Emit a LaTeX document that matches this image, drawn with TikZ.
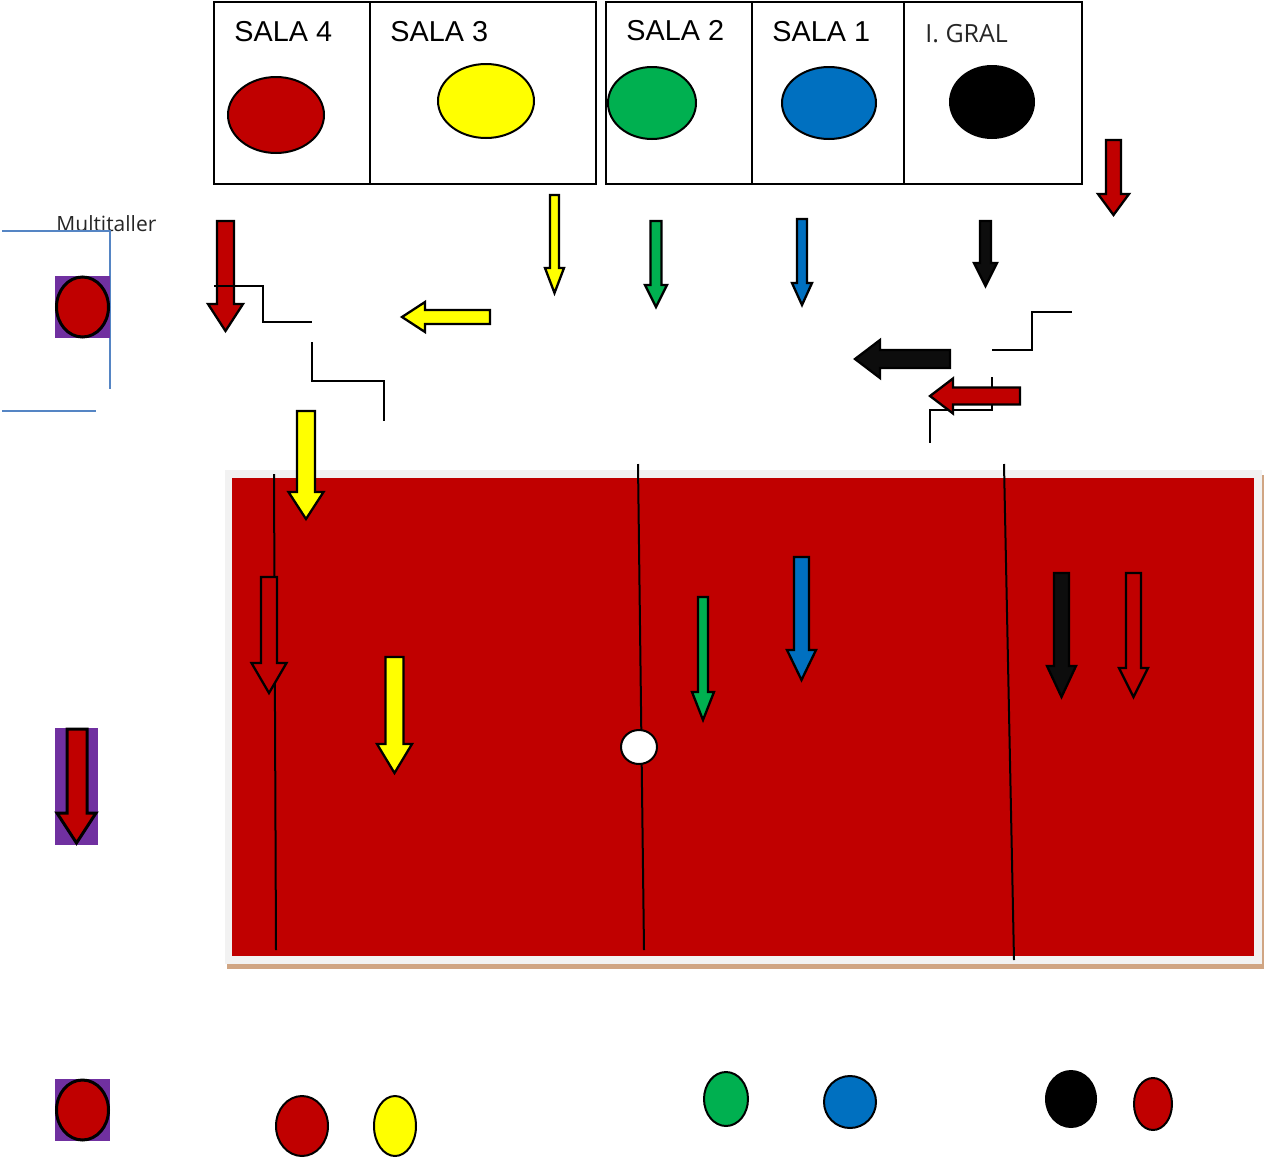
\documentclass[tikz,border=0pt]{standalone}
\usepackage{fontspec}
\setmainfont{Liberation Sans}
\newfontfamily\thinfont{Open Sans}
\definecolor{myred}{HTML}{C00000}
\definecolor{myyellow}{HTML}{FFFF00}
\definecolor{mygreen}{HTML}{00B050}
\definecolor{myblue}{HTML}{0070C0}
\definecolor{myblack}{HTML}{0D0D0D}
\definecolor{mypurple}{HTML}{7030A0}
\definecolor{myline}{HTML}{5585C4}
\definecolor{mytan}{HTML}{D0A583}
\definecolor{mygray}{HTML}{F2F2F2}
\tikzset{
  shapeline/.style={draw=black,line width=1.15pt,line join=miter},
  stairline/.style={draw=black,line width=1pt},
  sala/.style={anchor=base west,font=\fontsize{14.4}{16}\selectfont,inner sep=0pt},
  thinlabel/.style={anchor=base west,font=\thinfont\fontsize{10.5}{12}\selectfont,text=black!85,inner sep=0pt},
}

\begin{document}
\begin{tikzpicture}[x=0.5pt,y=-0.5pt]
  \useasboundingbox (0,0) rectangle (1264,1157);

  % Draw the court
  \fill[mytan] (227,963) rectangle (1264,969);
  \fill[mytan] (1262,475) rectangle (1264,969);
  \fill[mygray] (225,470) rectangle (1262,964);
  \fill[myred] (232,478) rectangle (1254,956);

  % Draw the room boxes
  \draw[shapeline] (214,2) rectangle (596,184);
  \draw[shapeline] (370,2) -- (370,184);
  \draw[shapeline] (606,2) rectangle (1082,184);
  \draw[shapeline] (752,2) -- (752,184);
  \draw[shapeline] (904,2) -- (904,184);

  % Room labels
  \node[sala] (sala4) at (234,41) {SALA 4};
  \node[sala] (sala3) at (390,41) {SALA 3};
  \node[sala] (sala2) at (626,40) {SALA 2};
  \node[sala] (sala1) at (772,41) {SALA 1};
  \node[thinlabel,font=\thinfont\fontsize{12.5}{14}\selectfont] (gral) at (925,42) {I. GRAL};
  \node[thinlabel] (multi) at (56,231) {Multitaller};

  % Blue lines at the left
  \draw[myline,line width=1.1pt] (2,231) -- (110,231) -- (110,389);
  \draw[myline,line width=1.1pt] (2,411) -- (96,411);

  % Purple backgrounds
  \fill[mypurple] (55,276) rectangle (110,338);
  \fill[mypurple] (55,728) rectangle (98,845);
  \fill[mypurple] (55,1079) rectangle (110,1141);

  % Draw the discs
  \foreach \xc/\yc/\rx/\ry/\col in {
    276/115/48/38/myred, 486/101/48/37/myyellow, 652/103/44/36/mygreen,
    829/103/47/36/myblue, 992/102/42/36/black,
    302/1126/26/30/myred, 395/1126/21/30/myyellow, 726/1099/22/27/mygreen,
    850/1102/26/26/myblue, 1071/1099/25/28/black, 1153/1104/19/26/myred} {
    \draw[line width=1pt,fill=\col] (\xc,\yc) ellipse ({\rx} and {\ry});
  }
  \foreach \yc in {307,1110} {
    \draw[line width=1.5pt,fill=myred] (82.5,\yc) ellipse (26 and 30);
  }

  % Stairs behind the arrows
  \draw[stairline] (992,377) -- (992,410) -- (930,410) -- (930,443);

  % Lines across the court
  \draw[stairline] (274,474) -- (276,950);
  \draw[stairline] (638,464) -- (644,950);
  \draw[stairline] (1004,464) -- (1014,960);

  % White disc over the line
  \draw[line width=1pt,fill=white] (639,747) ellipse (18 and 17);

  % Draw the down arrows
  \foreach \xc/\ya/\yh/\yb/\sw/\hw/\col in {
    1113.5/140/194/215/7.5/15.5/myred, 554.5/195/268/293/4.5/9.5/myyellow,
    656/221/285/307/5.5/11/mygreen, 802/219/283/305/5/10/myblue,
    985.5/221/263/286/5.5/11.5/myblack, 225.5/221/304/331/8.5/17.5/myred,
    306/411/492/519/9/17.5/myyellow, 269/577/663/693/8/17.5/myred,
    394.5/657/744/773/9/17.5/myyellow, 703/597/692/720/5/11/mygreen,
    801.5/557/650/680/7.5/14.5/myblue, 1061.5/573/666/697/7.5/14.5/myblack,
    1133.5/573/668/697/7.5/14.5/myred} {
    \draw[shapeline,fill=\col] (\xc-\sw,\ya) -- (\xc+\sw,\ya) -- (\xc+\sw,\yh)
      -- (\xc+\hw,\yh) -- (\xc,\yb) -- (\xc-\hw,\yh) -- (\xc-\sw,\yh) -- cycle;
  }
  \draw[shapeline,line width=1.5pt,fill=myred] (67,729) -- (87,729) -- (87,813)
    -- (96,813) -- (76.5,843) -- (57,813) -- (67,813) -- cycle;

  % Draw the left arrows
  \foreach \xa/\xh/\xb/\yc/\sw/\hw/\col in {
    490/425/402/317/7/15/myyellow, 950/880/855/359/9/19/myblack,
    1020/953/930/396/8.5/17.5/myred} {
    \draw[shapeline,fill=\col] (\xa,\yc-\sw) -- (\xa,\yc+\sw) -- (\xh,\yc+\sw)
      -- (\xh,\yc+\hw) -- (\xb,\yc) -- (\xh,\yc-\hw) -- (\xh,\yc-\sw) -- cycle;
  }

  % Stairs in front of the arrows
  \draw[stairline] (214,286) -- (263,286) -- (263,322) -- (312,322);
  \draw[stairline] (312,342) -- (312,381) -- (384,381) -- (384,421);
  \draw[stairline] (992,350) -- (1032,350) -- (1032,312) -- (1072,312);
\end{tikzpicture}
\end{document}
